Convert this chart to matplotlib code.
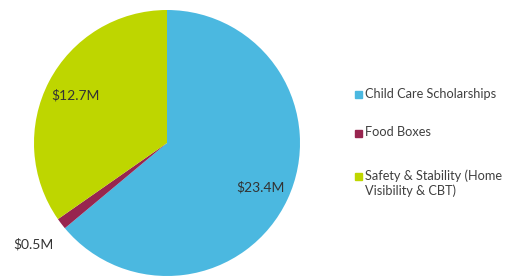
import numpy as np
import matplotlib
matplotlib.use('Agg')
import matplotlib.pyplot as plt
from matplotlib.patches import Rectangle

#data
categories = ['Child Care Scholarships', 'Food Boxes', 'Safety & Stability (Home\nVisibility & CBT)']
values = [23.4, 0.5, 12.7]
value_labels = ['$23.4M', '$0.5M', '$12.7M']
colors = ['#4BB8E0', '#98254F', '#BED600']

plt.rcParams['font.family'] = ['Lato', 'DejaVu Sans']

W, H = 519, 276
fig = plt.figure(figsize=(W / 100, H / 100), dpi=100)

#pie axes, center ~ (167,143) px, radius ~133 px
cx, cy, r = 167, 143, 133
ax = fig.add_axes([(cx - r) / W, (H - cy - r) / H, 2 * r / W, 2 * r / H])
wedges, texts = ax.pie(values, colors=colors, startangle=90, counterclock=False,
                       wedgeprops=dict(linewidth=0))
ax.set_xlim(-1, 1)
ax.set_ylim(-1, 1)
ax.set_aspect('auto')
ax.axis('off')

#value labels, small slice goes outside
for w, lab in zip(wedges, value_labels):
    ang = np.deg2rad((w.theta1 + w.theta2) / 2)
    dist = 0.78
    if w.theta2 - w.theta1 < 10:
        dist = 1.26
    ax.text(dist * np.cos(ang), dist * np.sin(ang), lab, ha='center', va='center',
            fontsize=10, color='#333333', clip_on=False)

#legend drawn by hand
ys = [94, 133, 176]
for y, c, name in zip(ys, colors, categories):
    fig.patches.append(Rectangle((355 / W, 1 - (y + 3.5) / H), 7 / W, 7 / H,
                                 transform=fig.transFigure, color=c))
    fig.text(365 / W, 1 - (y - 6.5) / H, name, ha='left', va='top', fontsize=9.2,
             color='#404040', linespacing=1.25)

fig.savefig('out.png', dpi=100)
